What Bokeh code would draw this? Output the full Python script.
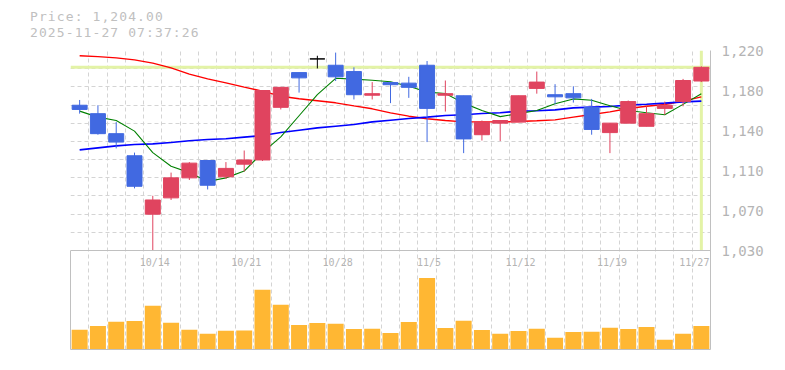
from bokeh.plotting import figure
from bokeh.layouts import column
from bokeh.models import (Range1d, FixedTicker, Grid, Span, LabelSet, Div,
                          ColumnDataSource, LinearAxis)
from bokeh.core.properties import value
from bokeh.embed import file_html
from bokeh.resources import INLINE

# ---------------- data ----------------
dates = ["10/7", "10/8", "10/9", "10/10", "10/14", "10/15", "10/16", "10/17",
         "10/20", "10/21", "10/22", "10/23", "10/24", "10/27", "10/28", "10/29",
         "10/30", "10/31", "11/4", "11/5", "11/6", "11/7", "11/10", "11/11",
         "11/12", "11/13", "11/14", "11/17", "11/18", "11/19", "11/20", "11/21",
         "11/25", "11/26", "11/27"]
opens = [1168, 1160, 1141, 1120, 1064.5, 1080, 1099, 1115.5, 1100, 1112,
         1116, 1166, 1199, 1212, 1206, 1200, 1177.5, 1189.5, 1189, 1206,
         1177.5, 1177, 1140, 1151, 1152, 1184, 1178, 1179, 1166, 1142,
         1151, 1148, 1165, 1171.5, 1191]
highs = [1173, 1168, 1152, 1123, 1082, 1104, 1114, 1116, 1114, 1125,
         1182, 1185, 1199, 1215, 1218, 1204, 1190, 1190, 1195, 1210,
         1191.5, 1177, 1153.5, 1153.5, 1177, 1200, 1188, 1186, 1174, 1151,
         1172.5, 1167, 1171.5, 1193, 1205]
lows = [1160, 1140, 1127, 1089, 1030, 1078, 1097, 1088, 1098, 1105,
        1115, 1164, 1180, 1203, 1191, 1173.5, 1173.5, 1170, 1175, 1133,
        1162, 1122.5, 1134.5, 1134, 1152, 1179, 1169, 1170.5, 1140, 1122.5,
        1151, 1148, 1159, 1167, 1190]
closes = [1164, 1141, 1133, 1091, 1078, 1099, 1113, 1092, 1108, 1116,
          1182, 1185, 1194, 1212, 1195, 1178, 1179, 1187.5, 1185, 1165,
          1179, 1136, 1152, 1153.5, 1177, 1190, 1176, 1175, 1145, 1151,
          1171.5, 1160, 1168, 1191.5, 1204]
volumes = [198, 236, 277, 286, 438, 268, 197, 158, 187, 189,
           597, 447, 246, 266, 257, 206, 208, 164, 276, 716,
           215, 287, 196, 157, 186, 207, 118, 176, 178, 217,
           206, 226, 97, 158, 236]
ma_short = [1162.4, 1156.7, 1153.5, 1143.4, 1123.0, 1110.0, 1104.0, 1095.5,
            1099.0, 1105.5, 1123.0, 1138.0, 1158.0, 1178.0, 1193.6, 1192.8,
            1191.8, 1190.3, 1186.0, 1180.5, 1179.2, 1170.0, 1163.0, 1157.2,
            1160.0, 1163.0, 1169.5, 1174.0, 1172.7, 1167.5, 1163.0, 1160.8,
            1159.0, 1168.8, 1179.0]
ma_mid = [1125.6, 1127.5, 1129.4, 1130.7, 1131.3, 1132.6, 1134.2, 1135.4,
          1136.1, 1137.7, 1139.2, 1142.1, 1144.3, 1146.5, 1148.1, 1149.7,
          1152.2, 1153.8, 1155.4, 1156.7, 1158.2, 1158.9, 1160.1, 1160.8,
          1162.4, 1162.7, 1163.6, 1165.5, 1166.2, 1166.8, 1168.1, 1169.0,
          1170.0, 1171.2, 1171.9]
ma_long = [1215.0, 1214.2, 1213.0, 1211.1, 1208.0, 1203.5, 1197.5, 1193.1,
           1189.3, 1185.2, 1181.4, 1176.6, 1174.1, 1172.2, 1170.3, 1167.4,
           1164.6, 1160.8, 1157.6, 1155.1, 1153.5, 1152.2, 1152.2, 1152.2,
           1152.5, 1153.2, 1154.1, 1156.7, 1159.2, 1161.7, 1164.9, 1167.1,
           1168.7, 1171.9, 1176.0]
x_tick_dates = ["10/14", "10/21", "10/28", "11/5", "11/12", "11/19", "11/27"]
y_tick_values = [1030, 1068, 1106, 1144, 1182, 1220]
y_tick_labels = ["1,030", "1,070", "1,110", "1,140", "1,180", "1,220"]
volume_panel_max = 990
last_price = 1204.00
timestamp = "2025-11-27 07:37:26"

# ---------------- styles / layout ----------------
UP = "#e0445f"
DOWN = "#4169e1"
EVEN = "#000000"
VOL = "#ffb733"
GRID = "#d4d4d4"
BORDER = "#c0c0c0"
HILITE = "#e3f3a6"
TXT = "#b4b4b4"
MONO = "DejaVu Sans Mono"
PRICE_PX = 200      # height of price panel
VOL_PX = 99         # height of volume panel
FRAME_W = 640

n = len(dates)
xs = list(range(n))
ymin, ymax = y_tick_values[0], y_tick_values[-1]
price_start = ymin - (ymax - ymin) * VOL_PX / PRICE_PX
vol_end = volume_panel_max * (PRICE_PX + VOL_PX) / VOL_PX

colors = [UP if c > o else (DOWN if c < o else EVEN) for o, c in zip(opens, closes)]
src = ColumnDataSource(dict(
    x=xs, top=[max(o, c) for o, c in zip(opens, closes)],
    bottom=[min(o, c) for o, c in zip(opens, closes)],
    high=highs, low=lows, color=colors, vol=volumes,
    ma_s=ma_short, ma_m=ma_mid, ma_l=ma_long))

slot_edges = [i - 0.5 for i in range(n)]

# ---------------- header ----------------
line_style = (f"font-family:'{MONO}'; font-size:13px; letter-spacing:1.1px; "
              f"line-height:16px; height:16px; color:#c0c0c0; white-space:pre;")
header = Div(
    text=(f'<div style="margin:9px 0 0 30px;">'
          f'<div style="{line_style}">Price: {last_price:,.2f}</div>'
          f'<div style="{line_style}">{timestamp}</div></div>'),
    width=70 + FRAME_W + 67, height=42, margin=0)

# ---------------- price + volume panel ----------------
p = figure(frame_width=FRAME_W, frame_height=PRICE_PX + VOL_PX,
           x_range=Range1d(-0.5, n - 0.5), y_range=Range1d(price_start, ymax),
           output_backend="svg", toolbar_location=None,
           x_axis_location="below", y_axis_location="right",
           min_border_left=70, min_border_right=67,
           min_border_top=8, min_border_bottom=4,
           outline_line_color=None)
p.extra_y_ranges = {"vol": Range1d(0, vol_end)}
for g in p.grid:
    g.visible = False

p.add_layout(Grid(dimension=0, ticker=FixedTicker(ticks=slot_edges),
                  grid_line_color=GRID, grid_line_dash="4 3"))
p.add_layout(Grid(dimension=1,
                  ticker=FixedTicker(ticks=[ymin + k * (ymax - ymin) / 11 for k in range(12)]),
                  grid_line_color=GRID, grid_line_dash="4 3"))

# right price axis (also the right border)
ax = p.yaxis[0]
ax.ticker = FixedTicker(ticks=y_tick_values)
ax.major_label_overrides = {v: l for v, l in zip(y_tick_values, y_tick_labels)}
ax.axis_line_color = BORDER
ax.major_tick_line_color = None
ax.minor_tick_line_color = None
ax.major_tick_out = 0
ax.major_tick_in = 0
ax.major_label_standoff = 11
ax.major_label_text_font = MONO
ax.major_label_text_font_size = "14px"
ax.major_label_text_color = TXT

# bottom border
bx = p.xaxis[0]
bx.ticker = FixedTicker(ticks=[])
bx.axis_line_color = BORDER
bx.major_tick_line_color = None
bx.minor_tick_line_color = None
bx.major_tick_out = 0
bx.major_tick_in = 0
bx.major_label_standoff = 0
bx.major_label_text_font_size = "0px"

# left border of volume panel
lx = LinearAxis(y_range_name="vol", bounds=(0, volume_panel_max),
                ticker=FixedTicker(ticks=[]), axis_line_color=BORDER,
                major_tick_line_color=None, minor_tick_line_color=None,
                major_tick_out=0, major_tick_in=0, major_label_standoff=0,
                major_label_text_font_size="0px")
p.add_layout(lx, "left")

# separator between panels
p.add_layout(Span(location=ymin, dimension="width", line_color=BORDER, line_width=1))

# current price highlight
p.add_layout(Span(location=last_price, dimension="width", line_color=HILITE,
                  line_width=3, level="underlay"))
p.segment(x0=xs[-1], y0=ymin, x1=xs[-1], y1=ymax, line_color=HILITE, line_width=3)

p.line("x", "ma_l", source=src, line_color="#ff0000", line_width=1.4)
p.line("x", "ma_m", source=src, line_color="#0000ff", line_width=1.6)
p.line("x", "ma_s", source=src, line_color="#008000", line_width=1.1)

p.segment(x0="x", y0="low", x1="x", y1="high", source=src,
          line_color="color", line_width=1)
p.vbar(x="x", width=0.82, top="top", bottom="bottom", source=src,
       fill_color="color", line_color="color", line_width=1)

p.vbar(x="x", width=0.875, top="vol", bottom=0, source=src,
       fill_color=VOL, line_color=None, y_range_name="vol")

lab_idx = [dates.index(d) for d in x_tick_dates]
lab_src = ColumnDataSource(dict(x=lab_idx, text=x_tick_dates,
                                xoff=[2 if i < n - 1 else -7 for i in lab_idx]))
p.add_layout(LabelSet(x="x", y=87, y_units="screen", text="text", source=lab_src,
                      x_offset="xoff", text_align="center", text_baseline="middle",
                      text_font=value(MONO), text_font_size=value("10px"),
                      text_color=TXT))

layout = column(header, p)
open("out.html", "w").write(file_html(layout, INLINE))
